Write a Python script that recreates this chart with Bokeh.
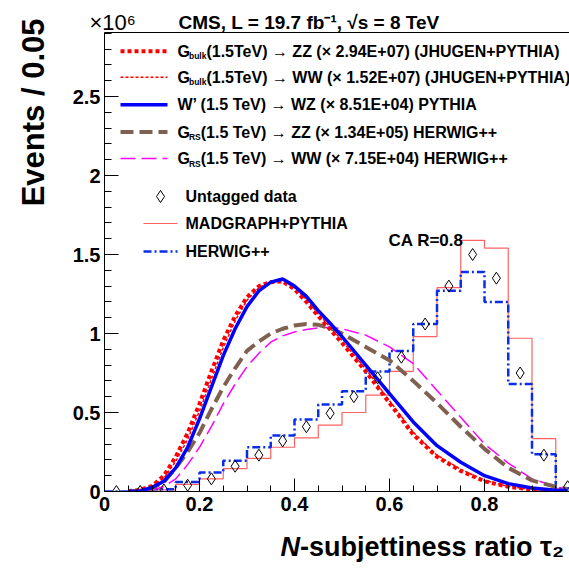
import numpy as np
from bokeh.plotting import figure
from bokeh.models import Range1d, LinearAxis, Label, FixedTicker, PrintfTickFormatter
from bokeh.embed import file_html
from bokeh.resources import INLINE

# ---------------- data (events per 0.05, in units of 10^6) ----------------
bin_edges = [0.0, 0.05, 0.1, 0.15, 0.2, 0.25, 0.3, 0.35, 0.4, 0.45, 0.5,
             0.55, 0.6, 0.65, 0.7, 0.75, 0.8, 0.85, 0.9, 0.95, 1.0]
bin_centers = [0.025, 0.075, 0.125, 0.175, 0.225, 0.275, 0.325, 0.375, 0.425, 0.475,
               0.525, 0.575, 0.625, 0.675, 0.725, 0.775, 0.825, 0.875, 0.925, 0.975]
untagged_data = [0.0, 0.0, 0.01, 0.04, 0.08, 0.16, 0.23, 0.32, 0.41, 0.495,
                 0.60, 0.72, 0.85, 1.06, 1.30, 1.50, 1.35, 0.75, 0.23, 0.03]
madgraph_pythia = [0.0, 0.0, 0.01, 0.045, 0.08, 0.145, 0.21, 0.28, 0.34, 0.42,
                   0.50, 0.61, 0.76, 0.98, 1.29, 1.59, 1.54, 0.97, 0.335, 0.02]
herwig = [0.0, 0.0, 0.015, 0.06, 0.12, 0.195, 0.28, 0.355, 0.455, 0.55,
          0.635, 0.76, 0.89, 1.06, 1.27, 1.39, 1.20, 0.68, 0.235, 0.02]

curve_x = [0.05, 0.075, 0.1, 0.125, 0.15, 0.175, 0.2, 0.225, 0.25, 0.275, 0.3, 0.325,
           0.35, 0.375, 0.4, 0.425, 0.45, 0.475, 0.5, 0.55, 0.6, 0.65, 0.7, 0.75,
           0.8, 0.85, 0.9, 0.95, 0.975]
wprime_wz = [0.0, 0.003, 0.025, 0.065, 0.15, 0.28, 0.46, 0.66, 0.86, 1.03, 1.17, 1.27,
             1.325, 1.345, 1.30, 1.235, 1.145, 1.065, 0.98, 0.80, 0.62, 0.44, 0.29, 0.185,
             0.10, 0.05, 0.022, 0.008, 0.004]
gbulk_zz = [0.003, 0.01, 0.035, 0.10, 0.22, 0.37, 0.555, 0.76, 0.955, 1.11, 1.23, 1.30,
            1.325, 1.33, 1.28, 1.20, 1.11, 1.025, 0.94, 0.76, 0.56, 0.36, 0.22, 0.13,
            0.065, 0.03, 0.012, 0.004, 0.002]
gbulk_ww = [0.002, 0.008, 0.03, 0.085, 0.19, 0.33, 0.51, 0.71, 0.91, 1.08, 1.21, 1.29,
            1.325, 1.335, 1.29, 1.215, 1.125, 1.04, 0.955, 0.775, 0.575, 0.375, 0.23, 0.14,
            0.07, 0.032, 0.013, 0.005, 0.002]
grs_zz = [0.0, 0.005, 0.02, 0.06, 0.15, 0.25, 0.37, 0.52, 0.66, 0.78, 0.89, 0.95,
          1.0, 1.03, 1.05, 1.06, 1.055, 1.035, 1.0, 0.915, 0.83, 0.70, 0.56, 0.41,
          0.27, 0.15, 0.07, 0.03, 0.015]
grs_ww = [0.0, 0.002, 0.01, 0.03, 0.08, 0.17, 0.28, 0.41, 0.555, 0.68, 0.79, 0.875,
          0.945, 0.985, 1.01, 1.025, 1.035, 1.04, 1.03, 0.99, 0.915, 0.81, 0.64, 0.47,
          0.30, 0.18, 0.08, 0.03, 0.015]

x_ticks = [0.0, 0.2, 0.4, 0.6, 0.8, 1.0]
y_ticks = [0.0, 0.5, 1.0, 1.5, 2.0, 2.5]

# ---------------- layout ----------------
W, H = 569, 573
FL, FT, FB = 104, 32, 82
PXX, PXY = 475.0, 158.0
x_end = (W - FL) / PXX
y_end = (H - FT - FB) / PXY
FONT = "Liberation Sans"


def dx(px):
    return (px - FL) / PXX


def dy(py):
    return (H - FB - py) / PXY


p = figure(width=W, height=H, x_range=Range1d(0, x_end), y_range=Range1d(0, y_end),
           output_backend="svg", toolbar_location=None,
           min_border_left=FL, min_border_top=FT, min_border_bottom=FB, min_border_right=0)
p.xgrid.visible = False
p.ygrid.visible = False
p.outline_line_color = None
p.background_fill_color = "white"
p.border_fill_color = "white"

xminor = bin_edges
yminor = [round(0.1 * i, 1) for i in range(30)]
p.xaxis[0].ticker = FixedTicker(ticks=x_ticks, minor_ticks=xminor)
p.yaxis[0].ticker = FixedTicker(ticks=y_ticks, minor_ticks=yminor)
for ax in (p.xaxis[0], p.yaxis[0]):
    ax.formatter = PrintfTickFormatter(format="%g")
    ax.major_tick_out = 0
    ax.minor_tick_out = 0
    ax.axis_line_color = "black"
    ax.major_tick_line_color = "black"
    ax.minor_tick_line_color = "black"
    ax.major_label_text_font = FONT
    ax.major_label_text_font_size = "20px"
    ax.major_label_text_font_style = "bold"
    ax.major_label_text_color = "black"
p.xaxis[0].major_tick_in = 13
p.xaxis[0].minor_tick_in = 6
p.yaxis[0].major_tick_in = 14
p.yaxis[0].minor_tick_in = 7
p.yaxis[0].major_label_standoff = 4
p.xaxis[0].major_label_standoff = 5

top = LinearAxis(ticker=FixedTicker(ticks=[]), major_label_text_font_size="0px",
                 major_label_standoff=0, major_tick_in=0, major_tick_out=0,
                 minor_tick_in=0, minor_tick_out=0, axis_line_color="black")
p.add_layout(top, "above")

# ---------------- histograms ----------------
p.step(bin_edges, madgraph_pythia + [madgraph_pythia[-1]], mode="after",
       line_color="#ff6262", line_width=1.2)
p.step(bin_edges, herwig + [herwig[-1]], mode="after",
       line_color="#0a2ee8", line_width=2.5, line_dash="8 3 2 3")

# ---------------- signal curves ----------------
p.line(curve_x, grs_ww, line_color="#ff00ff", line_width=1.5, line_dash="15 6")
p.line(curve_x, grs_zz, line_color="#806050", line_width=4, line_dash="13 6")
p.line(curve_x, gbulk_ww, line_color="#ff0000", line_width=1.5, line_dash="3 2")
p.line(curve_x, gbulk_zz, line_color="#ff0000", line_width=4, line_dash="4 3")
p.line(curve_x, wprime_wz, line_color="#0000ff", line_width=3.5)

# ---------------- data points ----------------
p.scatter(bin_centers, untagged_data, marker="diamond", size=12,
          fill_color=None, line_color="black", line_width=1)


# ---------------- texts ----------------
def lab(px, py, text, size, style="bold", align="left"):
    """Text inside the frame (data units)."""
    p.add_layout(Label(x=dx(px), y=dy(py), text=text, text_font=FONT,
                       text_font_size=f"{size}px", text_font_style=style,
                       text_align=align, text_baseline="middle", text_color="black"))


def clab(place, px, py, text, size, style="bold", align="left", angle=0.0):
    """Text outside the frame: held by a side panel, placed in canvas units."""
    p.add_layout(Label(x=px, y=py, x_units="canvas", y_units="canvas", text=text,
                       text_font=FONT, text_font_size=f"{size}px", text_font_style=style,
                       text_align=align, text_baseline="middle", angle=angle,
                       text_color="black"), place)


# header (above the frame)
clab("above", 178, 21.5, "CMS, L = 19.7 fb\u207b\u00b9, \u221as = 8 TeV", 19)
clab("below", 89, 22, "\u00d710\u2076", 22, style="normal")

# axis titles
clab("left", 33, 18, "Events / 0.05", 31, align="right", angle=np.pi / 2)
clab("left", 280, 546.5, "N", 27, style="bold italic")
clab("below", 299.5, 546.5, "-subjettiness ratio \u03c4\u2082", 27)

lab(388, 240, "CA R=0.8", 17)

# legend
LF, SF = 16, 8.5
LX0, LX1, TX = 120, 167, 177
rowsA = [50.7, 76.7, 104.3]
rowsB = [131.5, 158]
p.line([dx(LX0), dx(LX1)], [dy(rowsA[0])] * 2, line_color="#ff0000", line_width=4, line_dash="4 3")
p.line([dx(LX0), dx(LX1)], [dy(rowsA[1])] * 2, line_color="#ff0000", line_width=1.5, line_dash="3 2")
p.line([dx(LX0), dx(LX1)], [dy(rowsA[2])] * 2, line_color="#0000ff", line_width=3.5)
p.line([dx(LX0), dx(LX1)], [dy(rowsB[0])] * 2, line_color="#806050", line_width=4, line_dash="13 6")
p.line([dx(LX0), dx(LX1)], [dy(rowsB[1])] * 2, line_color="#ff00ff", line_width=1.5, line_dash="15 6")

sub_x = TX + 0.778 * LF - 1
bulk_end = sub_x + 2.056 * SF
rs_end = sub_x + 1.389 * SF
lab(TX, rowsA[0], "G", LF)
lab(sub_x, rowsA[0] + 5, "bulk", SF)
lab(bulk_end, rowsA[0], " (1.5TeV) \u2192 ZZ (\u00d7 2.94E+07) (JHUGEN+PYTHIA)", LF)
lab(TX, rowsA[1], "G", LF)
lab(sub_x, rowsA[1] + 5, "bulk", SF)
lab(bulk_end, rowsA[1], " (1.5TeV) \u2192 WW (\u00d7 1.52E+07) (JHUGEN+PYTHIA)", LF)
lab(TX, rowsA[2], "W\u2019 (1.5 TeV) \u2192 WZ (\u00d7 8.51E+04) PYTHIA", LF)
lab(TX, rowsB[0], "G", LF)
lab(sub_x, rowsB[0] + 5, "RS", SF)
lab(rs_end, rowsB[0], " (1.5 TeV) \u2192 ZZ (\u00d7 1.34E+05) HERWIG++", LF)
lab(TX, rowsB[1], "G", LF)
lab(sub_x, rowsB[1] + 5, "RS", SF)
lab(rs_end, rowsB[1], " (1.5 TeV) \u2192 WW (\u00d7 7.15E+04) HERWIG++", LF)

rowsC = [196, 223, 251]
p.scatter([dx(160)], [dy(rowsC[0])], marker="diamond", size=12,
          fill_color=None, line_color="black", line_width=1)
p.line([dx(143), dx(177)], [dy(rowsC[1])] * 2, line_color="#ff6262", line_width=1.2)
p.line([dx(143), dx(177)], [dy(rowsC[2])] * 2, line_color="#0a2ee8", line_width=2.5, line_dash="8 3 2 3")
lab(185, rowsC[0], "Untagged data", LF)
lab(185, rowsC[1], "MADGRAPH+PYTHIA", LF)
lab(185, rowsC[2], "HERWIG++", LF)

open("out.html", "w").write(file_html(p, INLINE))
